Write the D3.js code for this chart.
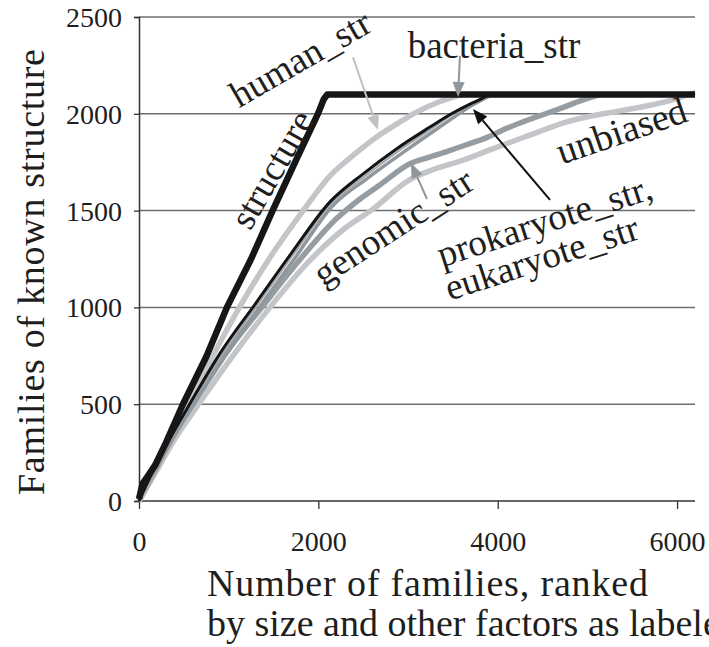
<!DOCTYPE html>
<html>
<head>
<meta charset="utf-8">
<script src="https://cdn.jsdelivr.net/npm/d3@7"></script>
</head>
<body style="margin:0;background:#fff">
<svg id="chart" width="709" height="647" font-family="Liberation Serif" style="display:block"></svg>
<script>
// Cumulative families of known structure versus number of families ranked
const FONT = "Liberation Serif";
const xTicks = [0, 2000, 4000, 6000];
const yTicks = [0, 500, 1000, 1500, 2000, 2500];

const structureX = [0, 20, 40, 100, 180, 300, 490, 750, 980, 1250, 1490, 1750, 2000, 2060, 2100, 6200];
const structureY = [10, 50, 90, 130, 185, 300, 500, 745, 1000, 1250, 1500, 1760, 2005, 2075, 2100, 2100];

const humanX = [0, 150, 300, 560, 800, 1120, 1450, 1800, 2130, 2400, 2650, 2900, 3100, 3350, 3540, 3620];
const humanY = [0, 150, 290, 520, 730, 1000, 1250, 1480, 1680, 1790, 1880, 1955, 2010, 2062, 2092, 2100];

const prokaryoteX = [0, 150, 300, 590, 900, 1300, 1700, 2130, 2500, 2875, 3240, 3465, 3690, 3830, 3900];
const prokaryoteY = [0, 150, 285, 520, 760, 1020, 1280, 1545, 1690, 1820, 1930, 1995, 2050, 2080, 2100];

const bacteriaX = [0, 150, 320, 620, 950, 1350, 1750, 2150, 2550, 2950, 3300, 3520, 3720, 3860, 3940];
const bacteriaY = [0, 140, 280, 505, 740, 1005, 1262, 1520, 1668, 1802, 1915, 1985, 2045, 2080, 2100];

const eukaryoteX = [0, 150, 310, 600, 920, 1320, 1720, 2140, 2520, 2900, 3260, 3480, 3700, 3850, 3920];
const eukaryoteY = [0, 148, 284, 515, 752, 1012, 1272, 1535, 1678, 1810, 1922, 1993, 2050, 2082, 2100];

const genomicX = [0, 200, 400, 620, 900, 1385, 1800, 2206, 2450, 2685, 3020, 3230, 3432, 3650, 3877, 4100, 4360, 4550, 4724, 4990, 5150];
const genomicY = [0, 180, 350, 520, 720, 1010, 1250, 1460, 1555, 1632, 1742, 1775, 1805, 1840, 1877, 1925, 1972, 2003, 2032, 2078, 2100];

const unbiasedX = [0, 200, 400, 680, 1000, 1460, 1900, 2300, 2600, 3020, 3300, 3610, 3950, 4300, 4800, 5360, 5600, 5920, 6200];
const unbiasedY = [0, 160, 320, 510, 720, 1000, 1240, 1410, 1505, 1660, 1715, 1760, 1820, 1880, 1962, 2015, 2035, 2068, 2110];

// Series drawing order: back to front
const series = [
  { name: "unbiased",   xs: unbiasedX,   ys: unbiasedY,   color: "#c3c5c9", width: 5.5, smooth: true },
  { name: "genomic",    xs: genomicX,    ys: genomicY,    color: "#959ca2", width: 5.5, smooth: true },
  { name: "human",      xs: humanX,      ys: humanY,      color: "#c3c5c9", width: 5.5, smooth: true },
  { name: "bacteria",   xs: bacteriaX,   ys: bacteriaY,   color: "#8f979d", width: 3.5, smooth: true },
  { name: "eukaryote",  xs: eukaryoteX,  ys: eukaryoteY,  color: "#a2a8ad", width: 2,   smooth: true },
  { name: "prokaryote", xs: prokaryoteX, ys: prokaryoteY, color: "#141414", width: 3,   smooth: true },
  { name: "structure",  xs: structureX,  ys: structureY,  color: "#161616", width: 6.5, smooth: false }
];

// Rotated curve labels (data coordinates of the label centre)
const labels = [
  { text: "human_str",       x: 1806, y: 2280, angle: -30, size: 37 },
  { text: "structure",       x: 1494, y: 1710, angle: -60, size: 37 },
  { text: "bacteria_str",    x: 3958, y: 2345, angle: 0,   size: 37 },
  { text: "unbiased",        x: 5386, y: 1906, angle: -19, size: 38 },
  { text: "genomic_str",     x: 2843, y: 1410, angle: -33, size: 37 },
  { text: "prokaryote_str,", x: 4527, y: 1441, angle: -18, size: 37 },
  { text: "eukaryote_str",   x: 4494, y: 1250, angle: -18, size: 37 }
];

// Pointer arrows from labels to curves
const arrows = [
  { x0: 2386, y0: 2293, x1: 2665, y1: 1916, color: "#bfc1c5" },
  { x0: 3579, y0: 2299, x1: 3557, y1: 2087, color: "#8f979d" },
  { x0: 3211, y0: 1560, x1: 3033, y1: 1746, color: "#8f979d" },
  { x0: 4583, y0: 1555, x1: 3724, y1: 2025, color: "#111111" }
];

const svg = d3.select("#chart");
const x = d3.scaleLinear().domain([0, 6200]).range([139, 695]);
const y = d3.scaleLinear().domain([0, 2500]).range([501, 17]);

// Horizontal gridlines
svg.append("g")
  .selectAll("line")
  .data(yTicks.filter(d => d > 0))
  .join("line")
  .attr("x1", x(0)).attr("x2", x(6200))
  .attr("y1", d => y(d)).attr("y2", d => y(d))
  .attr("stroke", "#6e6e6e").attr("stroke-width", 1.5);

// Axes
const yAxis = d3.axisLeft(y).tickValues(yTicks).tickSize(5).tickFormat(d3.format("d"));
const gy = svg.append("g").attr("transform", `translate(${x(0)},0)`).call(yAxis)
  .attr("font-family", FONT).attr("font-size", 28);
gy.select(".domain").attr("stroke", "#333").attr("stroke-width", 1.5);
gy.selectAll(".tick line").attr("stroke", "#333").attr("stroke-width", 1.3);
gy.selectAll(".tick text")
  .attr("x", -17).attr("dy", "0.34em")
  .attr("font-family", FONT).attr("font-size", 28).attr("fill", "#1e1e1e");

const xAxis = d3.axisBottom(x).tickValues(xTicks).tickSize(8).tickFormat(d3.format("d"));
const gx = svg.append("g").attr("transform", `translate(0,${y(0)})`).call(xAxis)
  .attr("font-family", FONT).attr("font-size", 28);
gx.select(".domain").attr("stroke", "#333").attr("stroke-width", 1.5)
  .attr("d", `M${x(0)},0H${x(6200)}`);
gx.selectAll(".tick line").attr("stroke", "#333").attr("stroke-width", 1.3);
gx.selectAll(".tick text")
  .attr("y", 40).attr("dy", "0.34em")
  .attr("font-family", FONT).attr("font-size", 28).attr("fill", "#1e1e1e");

// Curves
const smoothLine = d3.line().x(d => x(d[0])).y(d => y(d[1])).curve(d3.curveMonotoneX);
const sharpLine = d3.line().x(d => x(d[0])).y(d => y(d[1])).curve(d3.curveLinear);
svg.append("g")
  .selectAll("path")
  .data(series)
  .join("path")
  .attr("d", s => (s.smooth ? smoothLine : sharpLine)(s.xs.map((v, i) => [v, s.ys[i]])))
  .attr("fill", "none")
  .attr("stroke", s => s.color)
  .attr("stroke-width", s => s.width)
  .attr("stroke-linejoin", "round")
  .attr("stroke-linecap", "butt");

// Arrows
const ag = svg.append("g");
arrows.forEach(a => {
  const sx = x(a.x0), sy = y(a.y0), ex = x(a.x1), ey = y(a.y1);
  const ang = Math.atan2(ey - sy, ex - sx);
  const len = 15, half = 6;
  const bx = ex - len * Math.cos(ang), by = ey - len * Math.sin(ang);
  ag.append("line")
    .attr("x1", sx).attr("y1", sy).attr("x2", bx).attr("y2", by)
    .attr("stroke", a.color).attr("stroke-width", 2);
  const px = -Math.sin(ang), py = Math.cos(ang);
  ag.append("path")
    .attr("d", `M${ex},${ey}L${bx + half * px},${by + half * py}L${bx - half * px},${by - half * py}Z`)
    .attr("fill", a.color);
});

// Curve labels
svg.append("g")
  .selectAll("text")
  .data(labels)
  .join("text")
  .attr("transform", d => `translate(${x(d.x)},${y(d.y)}) rotate(${d.angle})`)
  .attr("text-anchor", "middle")
  .attr("dy", "0.3em")
  .attr("font-family", FONT)
  .attr("font-size", d => d.size)
  .attr("fill", "#1e1e1e")
  .text(d => d.text);

// Axis titles
svg.append("text")
  .attr("transform", "translate(44,272) rotate(-90)")
  .attr("text-anchor", "middle")
  .attr("textLength", 446).attr("lengthAdjust", "spacing")
  .attr("font-family", FONT).attr("font-size", 38).attr("fill", "#1e1e1e")
  .text("Families of known structure");

svg.append("text")
  .attr("x", 207).attr("y", 596)
  .attr("textLength", 441).attr("lengthAdjust", "spacing")
  .attr("font-family", FONT).attr("font-size", 38).attr("fill", "#1e1e1e")
  .text("Number of families, ranked");

svg.append("text")
  .attr("x", 207).attr("y", 636)
  .attr("font-family", FONT).attr("font-size", 38).attr("fill", "#1e1e1e")
  .text("by size and other factors as labeled");
</script>
</body>
</html>
